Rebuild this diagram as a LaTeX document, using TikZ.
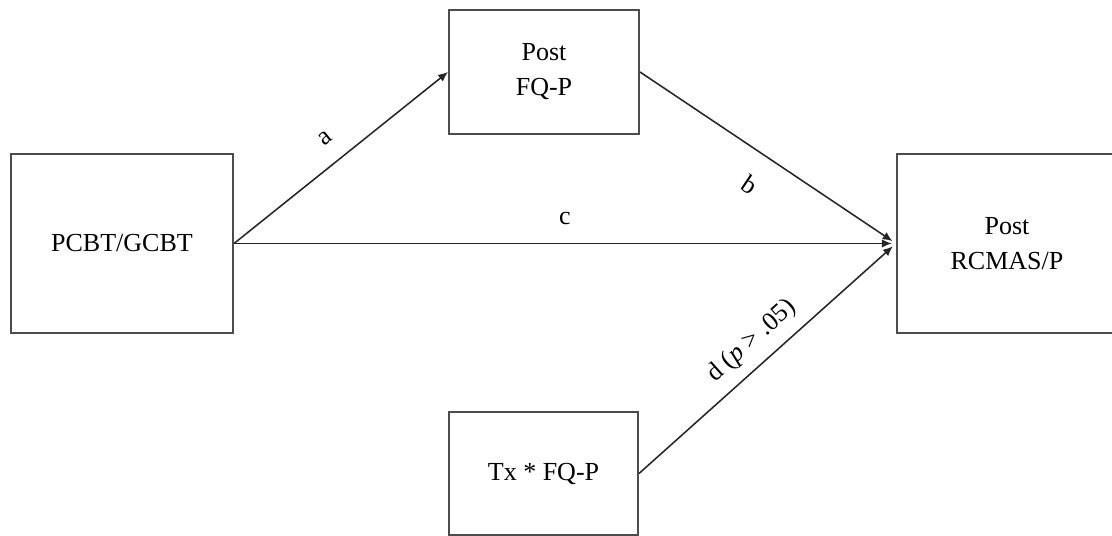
\documentclass[tikz,border=0pt]{standalone}
\usepackage{fontspec}
\setmainfont{Liberation Serif}
\usetikzlibrary{arrows.meta}

\begin{document}
\begin{tikzpicture}[
        x=0.025cm, y=-0.025cm,
        font=\fontsize{18.5}{25}\selectfont,
        box/.style={draw=black!70, line width=1.4pt, align=center, inner sep=0pt}, % Стиль блоков
        path/.style={draw=black!85, line width=1.1pt, -{Latex[length=7pt, width=6pt]}},
        kant/.style={sloped, inner sep=0pt},
    ]
    \useasboundingbox (0,0) rectangle (1112,536);

    \node[box, minimum width=5.55cm, minimum height=4.475cm] (treat) at (122,243.5) {PCBT/GCBT};
    \node[box, minimum width=4.75cm, minimum height=3.1cm] (fqp) at (544,72) {Post\\FQ-P};
    \node[box, minimum width=5.5cm, minimum height=4.475cm] (rcmas) at (1007,243.5) {Post\\RCMAS/P};
    \node[box, minimum width=4.725cm, minimum height=3.075cm] (inter) at (543.5,473.5) {Tx * FQ-P};

    \draw[path] (treat.east) -- (fqp.west) node[kant, pos=0.5, above=0.45cm] {a};
    \draw[path, shorten >=3pt] (fqp.east) -- (rcmas.west) node[kant, pos=0.5, below=0.55cm] {b};
    \draw[path, shorten >=3pt] (treat.east) -- (rcmas.west) node[kant, pos=0.5, above=0.45cm] {c};
    \draw[path, shorten >=3pt] (inter.east) -- (rcmas.west) node[kant, pos=0.5, above=0.27cm] {d (\textit{p} > .05)};
\end{tikzpicture}
\end{document}
